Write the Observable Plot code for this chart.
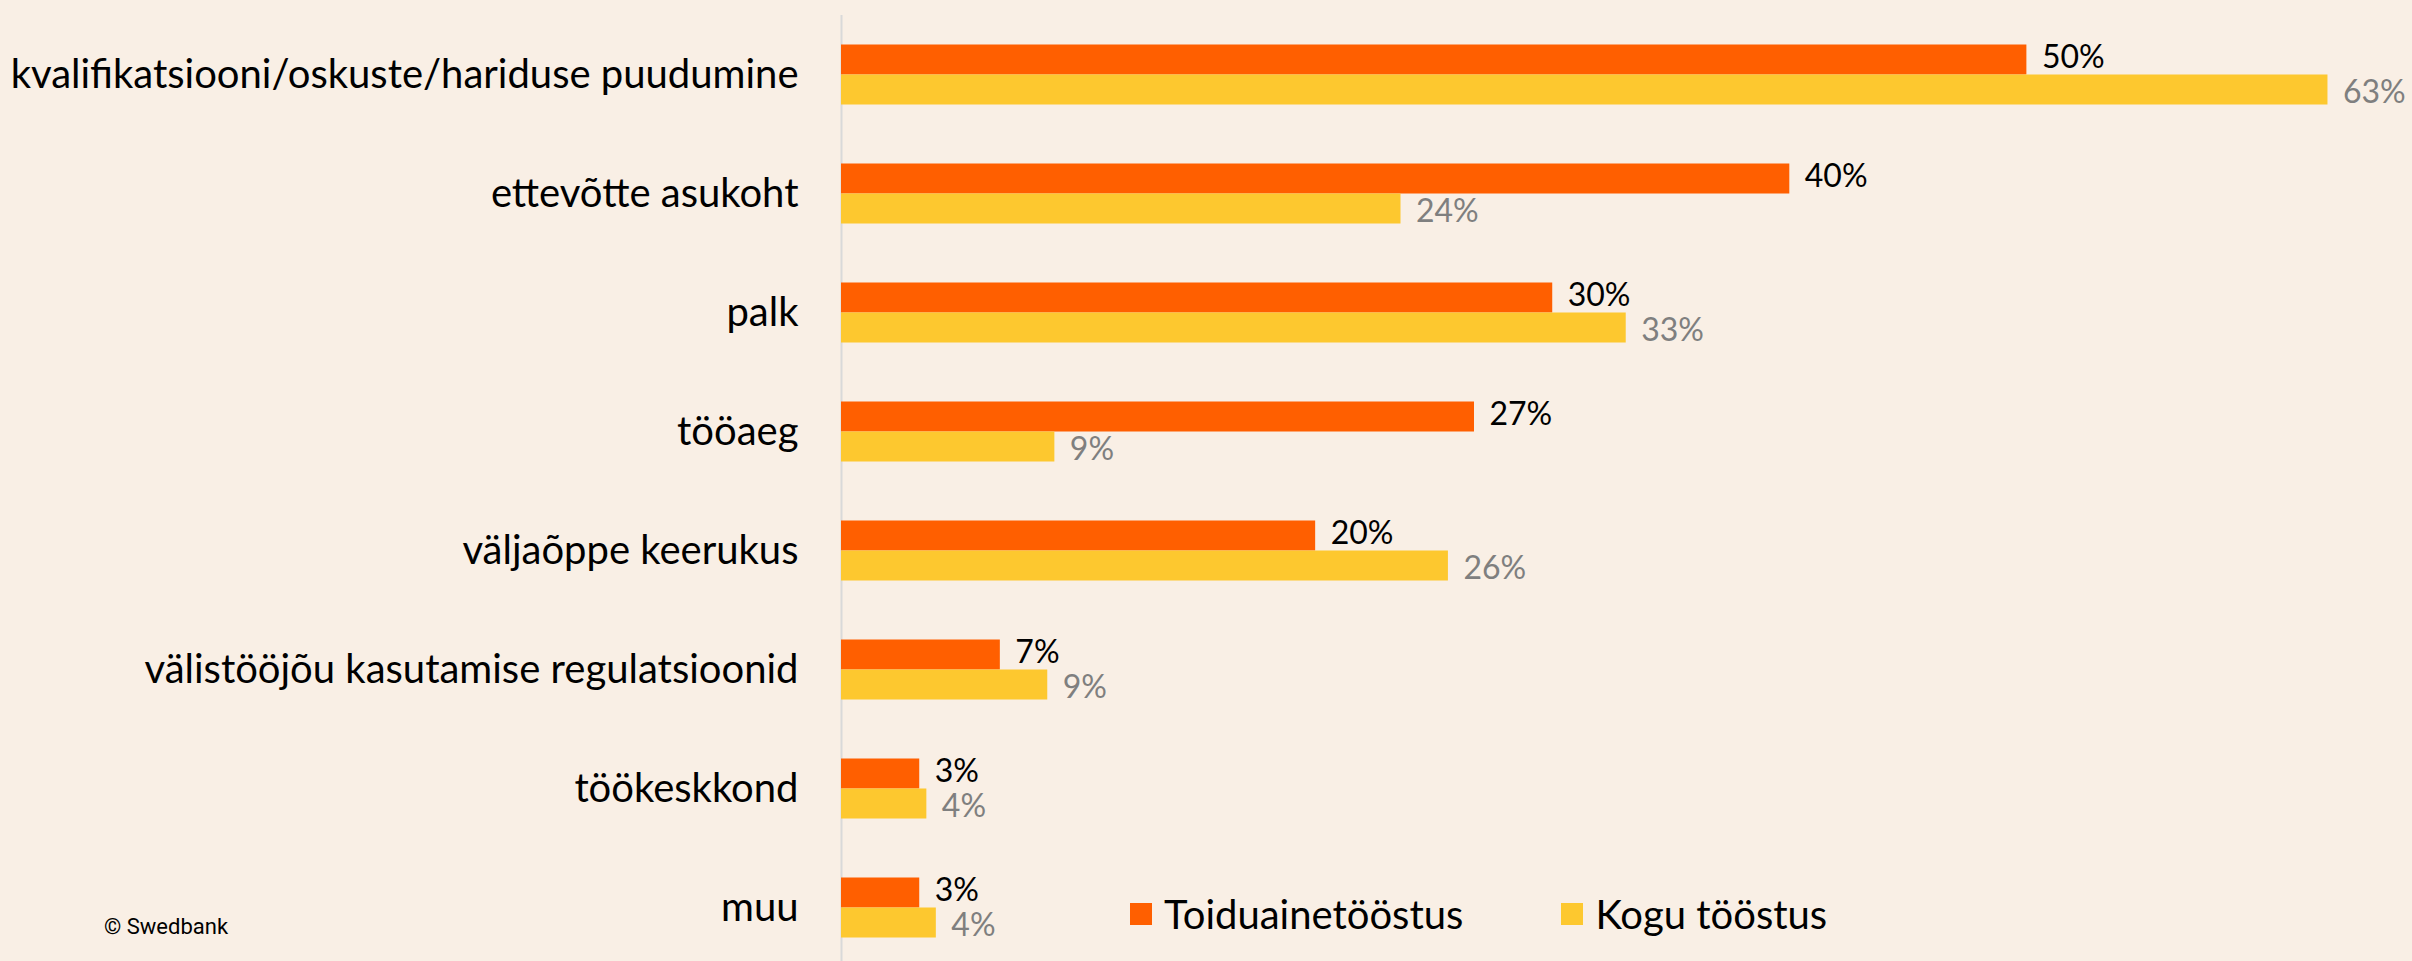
<!DOCTYPE html>
<html>
<head>
<meta charset="utf-8">
<script src="https://cdn.jsdelivr.net/npm/d3@7"></script>
<script src="https://cdn.jsdelivr.net/npm/@observablehq/plot@0.6"></script>
<style>
  html, body { margin: 0; padding: 0; background: #F9EFE5; overflow: hidden; }
  #wrap { position: relative; width: 2412px; height: 961px; }
  #legend { position: absolute; left: 1130px; top: 890px; display: flex; align-items: center; font-family: Lato, sans-serif; font-size: 40px; color: #000; }
  .item { display: flex; align-items: center; }
  .sw { width: 22px; height: 22px; margin-right: 12px; }
  #credit { position: absolute; left: 104px; top: 914px; font-family: Roboto, sans-serif; font-size: 22px; color: #000; }
</style>
</head>
<body>
<div id="wrap">
  <div id="chart"></div>
  <div id="legend"></div>
  <div id="credit">© Swedbank</div>
</div>
<script>
const categories = [
  "kvalifikatsiooni/oskuste/hariduse puudumine",
  "ettevõtte asukoht",
  "palk",
  "tööaeg",
  "väljaõppe keerukus",
  "välistööjõu kasutamise regulatsioonid",
  "töökeskkond",
  "muu"
];
const seriesNames = ["Toiduainetööstus", "Kogu tööstus"];
const toiduaine = [50.0, 40.0, 30.0, 26.7, 20.0, 6.7, 3.3, 3.3];
const kogu      = [62.7, 23.6, 33.1, 9.0, 25.6, 8.7, 3.6, 4.0];
const colors = ["#FF5F00", "#FDC82F"];
const labelColors = ["#000000", "#7F7F7F"];

const data = categories.flatMap((c, i) => [
  {cat: c, series: seriesNames[0], value: toiduaine[i]},
  {cat: c, series: seriesNames[1], value: kogu[i]}
]);

const chart = Plot.plot({
  width: 2412,
  height: 969,
  marginLeft: 841,
  marginRight: 30,
  marginTop: 12.5,
  marginBottom: 0,
  style: {background: "transparent", fontFamily: "Lato, sans-serif", fontSize: "40px", color: "#000"},
  x: {domain: [0, 65], axis: null},
  y: {domain: seriesNames, axis: null, paddingInner: 0, paddingOuter: 0.93},
  fy: {domain: categories, padding: 0, axis: null},
  color: {domain: seriesNames, range: colors},
  marks: [
    Plot.ruleX([0], {stroke: "#D9D9D9", strokeWidth: 2}),
    Plot.barX(data, {fy: "cat", y: "series", x: "value", fill: "series"}),
    Plot.text(data.filter(d => d.series === seriesNames[0]), {
      fy: "cat", y: "series", x: "value",
      text: d => Math.round(d.value) + "%",
      textAnchor: "start", dx: 15, dy: -2, fontSize: 32,
      fill: labelColors[0]
    }),
    Plot.text(data.filter(d => d.series === seriesNames[1]), {
      fy: "cat", y: "series", x: "value",
      text: d => Math.round(d.value) + "%",
      textAnchor: "start", dx: 15, dy: 3, fontSize: 32,
      fill: labelColors[1]
    }),
    Plot.text(categories, {
      fy: d => d, frameAnchor: "left", text: d => d,
      textAnchor: "end", dx: -43, fontSize: 40, fill: "#000"
    })
  ]
});
document.getElementById("chart").appendChild(chart);

const legend = document.getElementById("legend");
seriesNames.forEach((s, i) => {
  const item = document.createElement("div");
  item.className = "item";
  if (i > 0) item.style.marginLeft = "98px";
  const sw = document.createElement("div");
  sw.className = "sw";
  sw.style.background = colors[i];
  const t = document.createElement("span");
  t.textContent = s;
  item.appendChild(sw);
  item.appendChild(t);
  legend.appendChild(item);
});
</script>
</body>
</html>
